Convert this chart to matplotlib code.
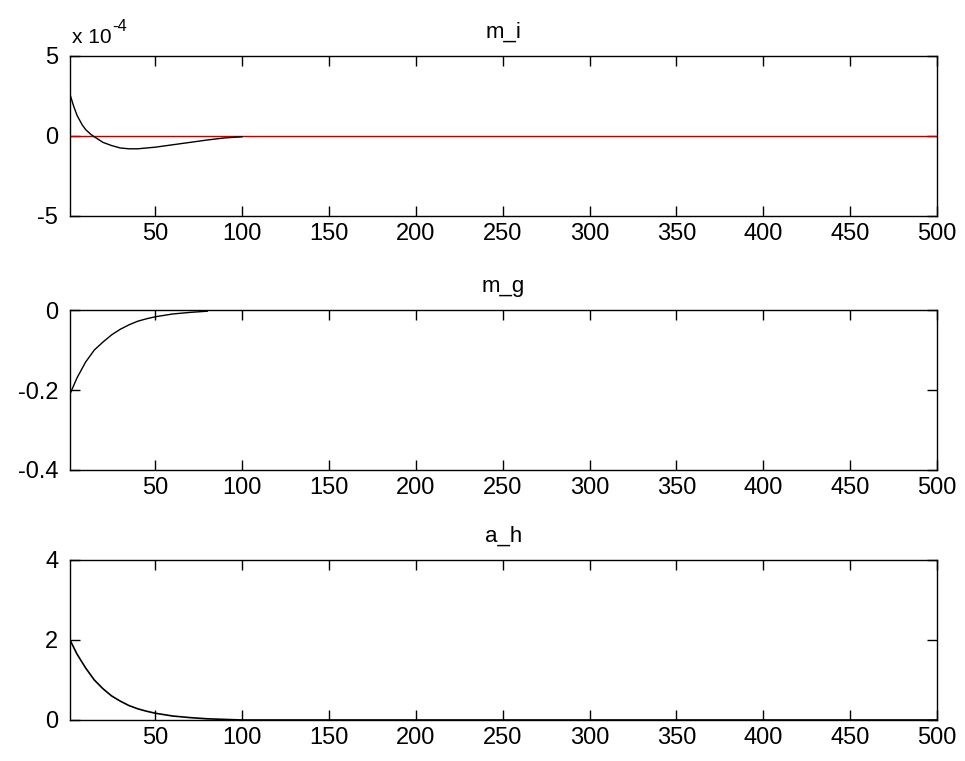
import matplotlib
matplotlib.use("Agg")
import matplotlib.pyplot as plt
import numpy as np

plt.rcParams['font.family'] = ['Liberation Sans', 'DejaVu Sans']

# ---- data ----
x_mi = [1, 3, 5, 8, 10, 13, 15, 20, 25, 30, 35, 40, 45, 50, 60, 70, 80, 90, 100]
y_mi = [2.6e-4, 1.9e-4, 1.3e-4, 0.7e-4, 0.4e-4, 0.1e-4, -0.05e-4, -0.4e-4, -0.6e-4,
        -0.75e-4, -0.8e-4, -0.8e-4, -0.75e-4, -0.7e-4, -0.55e-4, -0.4e-4, -0.25e-4,
        -0.12e-4, -0.05e-4]
x_ref = [1, 500]
y_ref = [0.0, 0.0]

x_mg = [1, 5, 10, 15, 20, 25, 30, 35, 40, 45, 50, 60, 70, 80]
y_mg = [-0.21, -0.17, -0.13, -0.10, -0.08, -0.062, -0.048, -0.037, -0.028, -0.022,
        -0.017, -0.010, -0.006, -0.003]

x_ah = [1, 5, 10, 15, 20, 25, 30, 35, 40, 45, 50, 60, 70, 80, 90, 100, 500]
y_ah = [2.0, 1.65, 1.3, 1.0, 0.78, 0.6, 0.47, 0.36, 0.28, 0.22, 0.17, 0.10, 0.06,
        0.03, 0.015, 0.0, 0.0]

titles = ['m_i', 'm_g', 'a_h']
xticks = [50, 100, 150, 200, 250, 300, 350, 400, 450, 500]
yticks_mi = [-5, 0, 5]
yticks_mg = [-0.4, -0.2, 0]
yticks_ah = [0, 2, 4]
scale_mi = 1e-4

fig = plt.figure(figsize=(9.65, 7.61), dpi=100)
W, H = 965, 761
left, right = 70, 937
boxes = [(56, 216), (310, 470), (560, 720)]
axes = []
for (t, b) in boxes:
    ax = fig.add_axes([left / W, 1 - b / H, (right - left) / W, (b - t) / H])
    axes.append(ax)

fs = 17
for ax, ttl in zip(axes, titles):
    ax.set_xlim(1, 500)
    ax.set_xticks(xticks)
    ax.set_xticklabels([str(v) for v in xticks])
    ax.tick_params(direction='in', length=7, width=1, top=True, right=True,
                   labelsize=fs, colors='black')
    ax.tick_params(axis='x', pad=5)
    ax.tick_params(axis='y', pad=8.5)
    for s in ax.spines.values():
        s.set_linewidth(1.0)
    ax.set_title(ttl, fontsize=16, pad=13)

ax = axes[0]
ax.plot(x_ref, y_ref, color='#b80000', lw=1.0)
ax.plot(x_mi, np.array(y_mi) / scale_mi, color='black', lw=1.0)
ax.set_ylim(-5, 5)
ax.set_yticks(yticks_mi)
ax.set_yticklabels([str(v) for v in yticks_mi])
t1 = ax.text(0.002, 1.08, 'x 10', transform=ax.transAxes, fontsize=15,
             ha='left', va='baseline')
ax.annotate('-4', xy=(1.0, 1.0), xycoords=t1, xytext=(1, -4),
            textcoords='offset points', fontsize=12, ha='left', va='bottom')

ax = axes[1]
ax.plot(x_mg, y_mg, color='black', lw=1.0)
ax.set_ylim(-0.4, 0)
ax.set_yticks(yticks_mg)
ax.set_yticklabels(['-0.4', '-0.2', '0'])

ax = axes[2]
ax.plot(x_ah, y_ah, color='black', lw=1.2)
ax.set_ylim(0, 4)
ax.set_yticks(yticks_ah)
ax.set_yticklabels([str(v) for v in yticks_ah])

fig.savefig('out.png', dpi=100)
